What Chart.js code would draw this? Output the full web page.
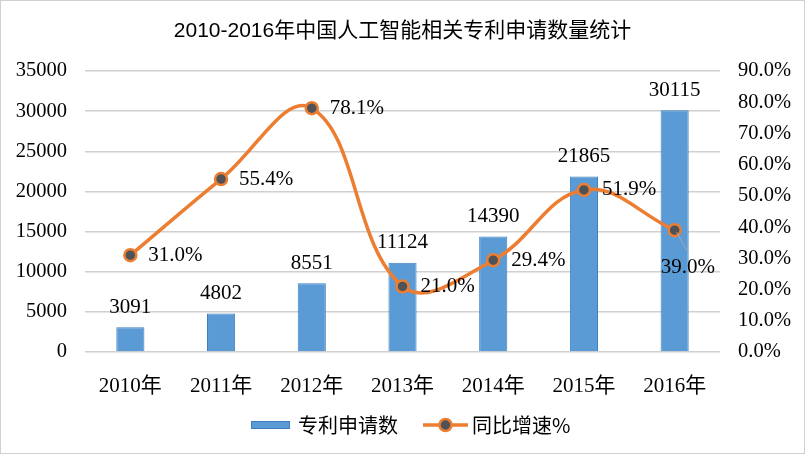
<!DOCTYPE html>
<html><head><meta charset="utf-8">
<script src="https://cdn.jsdelivr.net/npm/chart.js@4/dist/chart.umd.min.js"></script>
<style>
html,body{margin:0;padding:0;background:#fff;}
#wrap{position:relative;width:805px;height:454px;box-sizing:border-box;border:1px solid #d0d0d0;}
canvas{display:block;}
</style></head>
<body><div id="wrap"><canvas id="c" width="803" height="452"></canvas></div>
<script>
const categories = ['2010年','2011年','2012年','2013年','2014年','2015年','2016年'];
const patentCounts = [3091, 4802, 8551, 11124, 14390, 21865, 30115];
const growthRates = [31.0, 55.4, 78.1, 21.0, 29.4, 51.9, 39.0];
const seriesNames = ['专利申请数', '同比增速%'];
const chartTitle = '2010-2016年中国人工智能相关专利申请数量统计';

const SERIF = "'Liberation Serif','Noto Sans CJK SC'";
const BLUE = '#5B9BD5', ORANGE = '#ED7D31', MARK = '#4F5358';

const labelPlugin = {
  id: 'labels',
  afterDatasetsDraw(chart) {
    const ctx = chart.ctx;
    ctx.save();
    ctx.fillStyle = '#000';
    ctx.font = '21px ' + SERIF;
    ctx.textBaseline = 'middle';
    // bar labels
    const bm = chart.getDatasetMeta(1);
    bm.data.forEach((el, i) => {
      ctx.textAlign = 'center';
      ctx.fillText(String(patentCounts[i]), el.x, el.y - 20);
    });
    // line labels
    const lm = chart.getDatasetMeta(0);
    lm.data.forEach((el, i) => {
      const txt = growthRates[i].toFixed(1) + '%';
      if (i === lm.data.length - 1) {
        ctx.strokeStyle = '#A6A6A6'; ctx.lineWidth = 1;
        ctx.beginPath(); ctx.moveTo(el.x + 2, el.y + 2); ctx.lineTo(el.x + 12, el.y + 20); ctx.stroke();
        ctx.textAlign = 'left';
        ctx.fillText(txt, el.x - 14, el.y + 37);
      } else {
        ctx.textAlign = 'left';
        ctx.fillText(txt, el.x + 18, el.y);
      }
    });
    ctx.restore();
  },
  afterDraw(chart) {
    const ctx = chart.ctx;
    ctx.save();
    const y = 424;
    ctx.fillStyle = BLUE; ctx.strokeStyle = '#3F7FBF'; ctx.lineWidth = 1;
    ctx.fillRect(250, y - 4, 39, 8); ctx.strokeRect(250.5, y - 3.5, 38, 7);
    ctx.fillStyle = '#000';
    ctx.font = "20px 'Noto Sans CJK SC'";
    ctx.textBaseline = 'middle'; ctx.textAlign = 'left';
    ctx.fillText(seriesNames[0], 297, y);
    ctx.strokeStyle = ORANGE; ctx.lineWidth = 3.5;
    ctx.beginPath(); ctx.moveTo(422, y); ctx.lineTo(467, y); ctx.stroke();
    ctx.beginPath(); ctx.arc(444.5, y, 6, 0, Math.PI * 2);
    ctx.fillStyle = MARK; ctx.fill(); ctx.lineWidth = 2.5; ctx.stroke();
    ctx.fillStyle = '#000';
    ctx.fillText(seriesNames[1], 471, y);
    ctx.restore();
  }
};

new Chart(document.getElementById('c'), {
  data: {
    labels: categories,
    datasets: [
      { type: 'line', label: seriesNames[1], data: growthRates, yAxisID: 'y1',
        borderColor: ORANGE, borderWidth: 3.5, tension: 0.4,
        pointRadius: 6, pointBackgroundColor: MARK, pointBorderColor: ORANGE, pointBorderWidth: 2.5,
        order: 0 },
      { type: 'bar', label: seriesNames[0], data: patentCounts, yAxisID: 'y',
        backgroundColor: BLUE, borderColor: '#3F7FBF', borderWidth: 1,
        categoryPercentage: 1, barPercentage: 0.31, order: 1 }
    ]
  },
  options: {
    responsive: false, animation: false,
    layout: { padding: { left: 0, right: 0, top: 0, bottom: 51 } },
    plugins: {
      legend: { display: false },
      tooltip: { enabled: false },
      title: { display: true, text: chartTitle, color: '#000',
        font: { family: "'Liberation Sans','Noto Sans CJK SC'", size: 21, weight: 'normal' },
        padding: { top: 18, bottom: 26.8 } }
    },
    scales: {
      x: { grid: { display: false }, border: { display: false },
        ticks: { color: '#000', padding: 14, font: { family: SERIF, size: 21 } },
        afterFit(s) { s.height = 50; } },
      y: { position: 'left', min: 0, max: 35000,
        ticks: { stepSize: 5000, color: '#000', padding: 18, font: { family: SERIF, size: 20.5 },
          callback: v => String(v) },
        grid: { color: '#D0D0D0', lineWidth: 1.5, drawTicks: false }, border: { display: false },
        afterFit(s) { s.width = 84; } },
      y1: { position: 'right', min: 0, max: 90,
        ticks: { stepSize: 10, color: '#000', padding: 18, font: { family: SERIF, size: 20.5 },
          callback: v => v.toFixed(1) + '%' },
        grid: { display: false, drawTicks: false }, border: { display: false },
        afterFit(s) { s.width = 84; } }
    }
  },
  plugins: [labelPlugin]
});
</script></body></html>
